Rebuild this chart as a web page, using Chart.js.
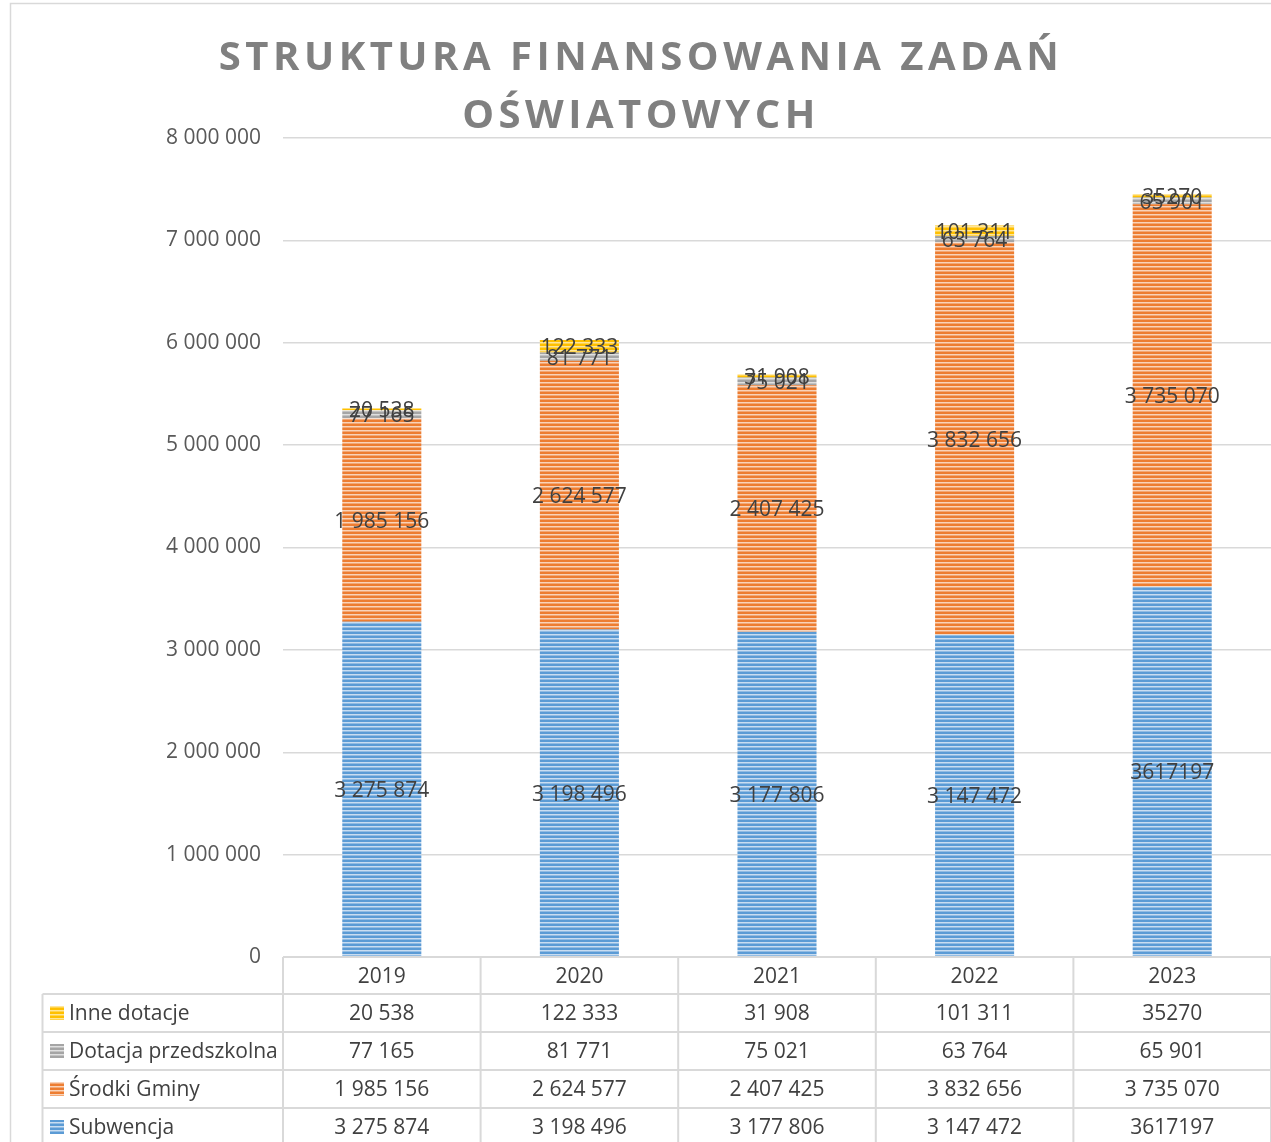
<!DOCTYPE html>
<html>
<head>
<meta charset="utf-8">
<script src="https://cdn.jsdelivr.net/npm/chart.js@4/dist/chart.umd.min.js"></script>
<style>
  html, body { margin: 0; padding: 0; background: #fff; overflow: hidden; }
  #wrap { width: 1271px; height: 1142px; }
</style>
</head>
<body>
<div id="wrap"><canvas id="chart" width="1271" height="1142"></canvas></div>
<script>
// data
const years = ['2019', '2020', '2021', '2022', '2023'];
const subwencja = [3275874, 3198496, 3177806, 3147472, 3617197];
const srodkiGminy = [1985156, 2624577, 2407425, 3832656, 3735070];
const dotacjaPrzedszkolna = [77165, 81771, 75021, 63764, 65901];
const inneDotacje = [20538, 122333, 31908, 101311, 35270];
const yTicks = [0, 1000000, 2000000, 3000000, 4000000, 5000000, 6000000, 7000000, 8000000];
const titleLines = ['STRUKTURA FINANSOWANIA ZADAŃ', 'OŚWIATOWYCH'];
// cells the source printed without thousand separators (year index)
const plainCells = { 'Inne dotacje': [4], 'Subwencja': [4] };

const FONT = '"Open Sans", "Liberation Sans", sans-serif';
const GRID = '#D9D9D9';

function fmt(n) {
    return String(n).replace(/\B(?=(\d{3})+(?!\d))/g, ' ');
}
function cellText(label, i, v) {
    return (plainCells[label] || []).includes(i) ? String(v) : fmt(v);
}

// Excel-like narrow horizontal stripes
function stripes(color, light) {
    const c = document.createElement('canvas');
    c.width = 8; c.height = 4;
    const g = c.getContext('2d');
    g.fillStyle = color; g.fillRect(0, 0, 8, 4);
    g.fillStyle = light; g.fillRect(0, 2, 8, 1);
    g.globalAlpha = 0.5; g.fillRect(0, 3, 8, 1);
    return g.createPattern(c, 'repeat');
}

const series = [
    { label: 'Subwencja', data: subwencja, color: '#5B9BD5', light: '#C9DDF1' },
    { label: 'Środki Gminy', data: srodkiGminy, color: '#ED7D31', light: '#F9D3B9' },
    { label: 'Dotacja przedszkolna', data: dotacjaPrzedszkolna, color: '#A5A5A5', light: '#E0E0E0' },
    { label: 'Inne dotacje', data: inneDotacje, color: '#FFC000', light: '#FFE699' }
];

const decorPlugin = {
    id: 'decor',
    beforeDraw(chart) {
        const ctx = chart.ctx;
        ctx.save();
        ctx.fillStyle = '#fff';
        ctx.fillRect(0, 0, chart.width, chart.height);
        ctx.strokeStyle = GRID;
        ctx.lineWidth = 1.5;
        ctx.beginPath();
        ctx.moveTo(10.5, chart.height);
        ctx.lineTo(10.5, 3.5);
        ctx.lineTo(chart.width, 3.5);
        ctx.stroke();

        // title
        ctx.fillStyle = '#808080';
        ctx.font = 'bold 40px ' + FONT;
        ctx.letterSpacing = '4.5px';
        ctx.textAlign = 'center';
        ctx.textBaseline = 'alphabetic';
        ctx.fillText(titleLines[0], 641, 70);
        ctx.fillText(titleLines[1], 641, 128);
        ctx.restore();
    },
    afterDatasetsDraw(chart) {
        const ctx = chart.ctx;
        ctx.save();
        ctx.font = '21px ' + FONT;
        ctx.fillStyle = '#404040';
        ctx.textAlign = 'center';
        ctx.textBaseline = 'middle';
        chart.data.datasets.forEach((ds, di) => {
            chart.getDatasetMeta(di).data.forEach((bar, i) => {
                const y = (bar.y + bar.base) / 2 + 2;
                ctx.fillText(cellText(ds.label, i, ds.data[i]), bar.x, y);
            });
        });
        ctx.restore();
    },
    afterDraw(chart) {
        const ctx = chart.ctx;
        const xs = chart.scales.x;
        const area = chart.chartArea;
        const catW = (area.right - area.left) / years.length;
        const top = area.bottom;
        const headH = 37, rowH = 38;
        const legL = 42.5;
        const rows = chart.data.datasets.slice().reverse();

        ctx.save();
        ctx.strokeStyle = GRID;
        ctx.lineWidth = 2;
        ctx.beginPath();
        // header top (axis)
        ctx.moveTo(area.left, top); ctx.lineTo(chart.width, top);
        // row lines
        for (let r = 0; r <= rows.length; r++) {
            const y = top + headH + r * rowH;
            ctx.moveTo(legL, y); ctx.lineTo(chart.width, y);
        }
        // vertical lines
        for (let i = 0; i <= years.length; i++) {
            const x = xs.getPixelForValue(i) - catW / 2;
            ctx.moveTo(x, top); ctx.lineTo(x, chart.height);
        }
        ctx.moveTo(legL, top + headH); ctx.lineTo(legL, chart.height);
        ctx.stroke();

        ctx.font = '21px ' + FONT;
        ctx.fillStyle = '#404040';
        ctx.textBaseline = 'middle';
        ctx.textAlign = 'center';
        years.forEach((yr, i) => {
            ctx.fillText(yr, xs.getPixelForValue(i), top + headH / 2 + 1.5);
        });
        rows.forEach((ds, r) => {
            const cy = top + headH + r * rowH + rowH / 2;
            ctx.textAlign = 'center';
            ds.data.forEach((v, i) => {
                ctx.fillText(cellText(ds.label, i, v), xs.getPixelForValue(i), cy + 1.5);
            });
            ctx.fillStyle = ds.backgroundColor;
            ctx.fillRect(50, cy - 7, 14, 14);
            ctx.fillStyle = '#404040';
            ctx.textAlign = 'left';
            ctx.fillText(ds.label, 69, cy + 1.5);
        });
        ctx.restore();
    }
};

new Chart(document.getElementById('chart'), {
    type: 'bar',
    data: {
        labels: years,
        datasets: series.map(s => ({
            label: s.label,
            data: s.data,
            backgroundColor: stripes(s.color, s.light),
            borderWidth: 0,
            categoryPercentage: 1,
            barPercentage: 0.4
        }))
    },
    options: {
        responsive: false,
        animation: false,
        layout: { padding: { top: 138, bottom: 185, left: 0, right: 0 } },
        scales: {
            x: {
                stacked: true,
                display: false
            },
            y: {
                stacked: true,
                min: 0,
                max: 8000000,
                afterBuildTicks(scale) {
                    scale.ticks = yTicks.map(v => ({ value: v }));
                },
                afterFit(scale) { scale.width = 283; },
                border: { display: false },
                grid: { color: GRID, lineWidth: 1.5, drawTicks: false },
                ticks: {
                    padding: 22,
                    color: '#595959',
                    font: { family: FONT, size: 21 },
                    callback: v => fmt(v)
                }
            }
        },
        plugins: {
            legend: { display: false },
            title: { display: false },
            tooltip: { enabled: false }
        }
    },
    plugins: [decorPlugin]
});
</script>
</body>
</html>
